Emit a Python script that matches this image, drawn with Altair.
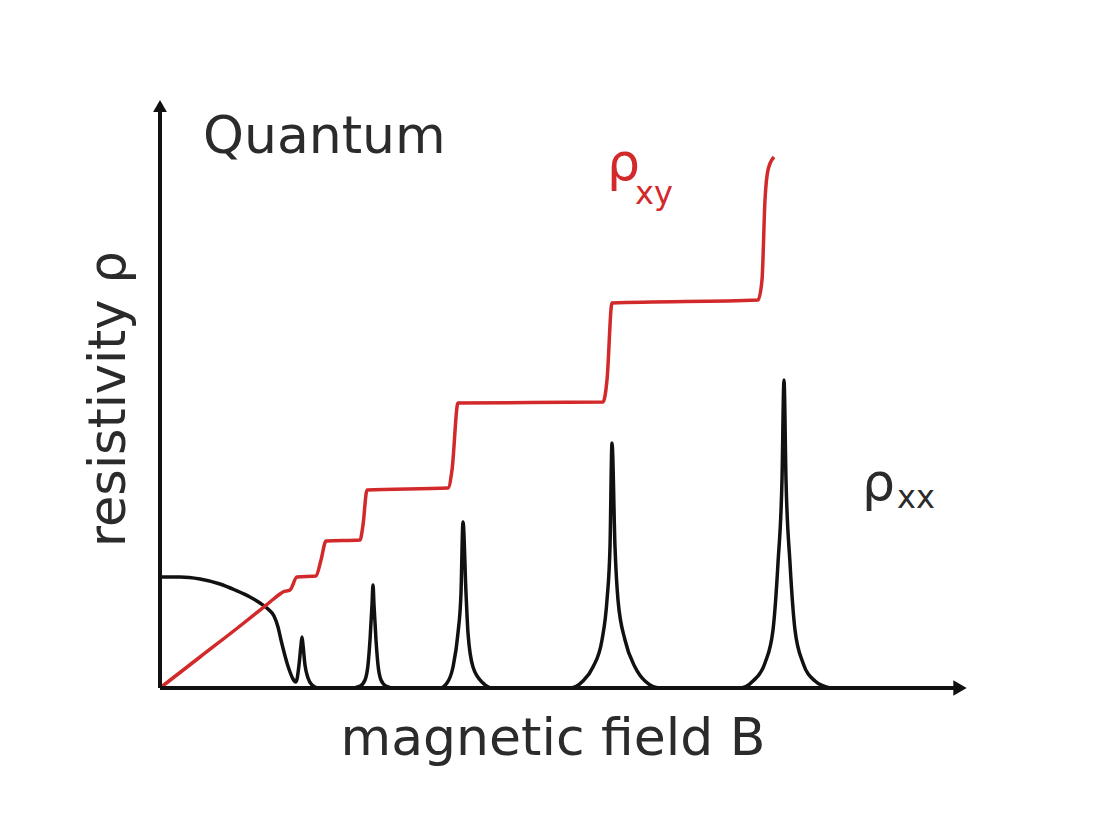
import altair as alt
import pandas as pd

# rho_xy (Hall resistivity)
xy_B = [0, 40, 80, 110, 120, 123, 130, 137, 156, 161, 166, 200, 203, 207, 288, 292, 298, 443, 447, 452, 598, 602, 605, 608, 614]
xy_rho = [0, 31, 62, 86, 94, 96, 98, 111, 112, 128, 147, 148, 163, 198, 200, 218, 285, 286, 308, 385, 388, 408, 488, 518, 531]

# rho_xx (longitudinal resistivity)
xx_B = [0, 20, 40, 60, 75, 90, 100, 108, 114, 118, 121, 124, 127, 130, 133, 136,
        139, 141, 142, 143, 145, 148, 152, 158,
        190, 200, 205, 208, 210, 212, 213, 214, 216, 218, 221, 226, 235,
        280, 287, 293, 298, 301, 303, 306, 308, 313, 323, 332,
        410, 423, 433, 442, 447, 450, 452, 455, 458, 465, 475, 485, 500,
        580, 593, 605, 613, 618, 622, 624, 626, 630, 635, 643, 655, 670]
xx_rho = [111, 111, 109, 104, 98, 91, 85, 79, 72, 61, 48, 36, 25, 16, 9, 6,
          23, 43, 51, 43, 23, 10, 3, 0,
          0, 2, 8, 23, 48, 83, 103, 83, 48, 23, 8, 2, 0,
          0, 5, 21, 55, 95, 166, 95, 55, 21, 5, 0,
          0, 7, 21, 48, 88, 141, 245, 141, 88, 48, 21, 7, 0,
          0, 7, 25, 58, 125, 208, 308, 208, 125, 58, 25, 7, 0]

df_xy = pd.DataFrame({"B": xy_B, "rho": xy_rho, "o": range(len(xy_B))})
df_xx = pd.DataFrame({"B": xx_B, "rho": xx_rho, "o": range(len(xx_B))})

RED = "#d2292b"
INK = "#111111"
TXT = "#2b2b2b"
FONT = "DejaVu Sans"

xs = alt.Scale(domain=[0, 810], nice=False, zero=False)
ys = alt.Scale(domain=[0, 590], nice=False, zero=False)

xx_line = alt.Chart(df_xx).mark_line(color=INK, strokeWidth=3.5, strokeJoin="round",
                                     interpolate="monotone").encode(
    x=alt.X("B:Q", scale=xs, axis=None),
    y=alt.Y("rho:Q", scale=ys, axis=None),
    order="o:Q",
)
xy_line = alt.Chart(df_xy).mark_line(color=RED, strokeWidth=3.5, strokeJoin="round",
                                     interpolate="monotone").encode(
    x=alt.X("B:Q", scale=xs, axis=None),
    y=alt.Y("rho:Q", scale=ys, axis=None),
    order="o:Q",
)

y_axis = alt.Chart().mark_rule(color=INK, strokeWidth=4).encode(
    x=alt.datum(0), y=alt.datum(0), y2=alt.datum(578)
)
x_axis = alt.Chart().mark_rule(color=INK, strokeWidth=4).encode(
    x=alt.datum(0), x2=alt.datum(798), y=alt.datum(0)
)
y_arrow = alt.Chart().mark_point(shape="triangle-up", filled=True, color=INK, size=190, opacity=1).encode(
    x=alt.datum(0), y=alt.datum(582)
)
x_arrow = alt.Chart().mark_point(shape="triangle-right", filled=True, color=INK, size=240, opacity=1).encode(
    x=alt.datum(800), y=alt.datum(0)
)

def label(text, x, y, size, color=TXT, align="left", angle=0):
    kw = dict(text=text, font=FONT, fontSize=size, color=color, align=align, baseline="alphabetic")
    if angle:
        kw["angle"] = angle
    return alt.Chart().mark_text(**kw).encode(x=alt.datum(x), y=alt.datum(y))

texts = [
    label("Quantum", 43, 535, 52),
    label("magnetic field B", 393, -67, 52, align="center"),
    label("resistivity ρ", -35, 289, 51, align="center", angle=270),
    label("ρ", 447, 508, 52, color=RED),
    label("xy", 475, 484, 32, color=RED),
    label("ρ", 702, 188, 52),
    label("xx", 737, 180, 32),
]

chart = alt.layer(xx_line, xy_line, y_axis, x_axis, y_arrow, x_arrow, *texts).properties(
    width=810,
    height=590,
    autosize=alt.AutoSizeParams(type="none"),
    padding={"left": 152, "top": 90, "right": 10, "bottom": 140},
    background="white",
).configure_view(stroke=None)

chart.save("out.html", embed_options={"renderer": "svg", "actions": False})
